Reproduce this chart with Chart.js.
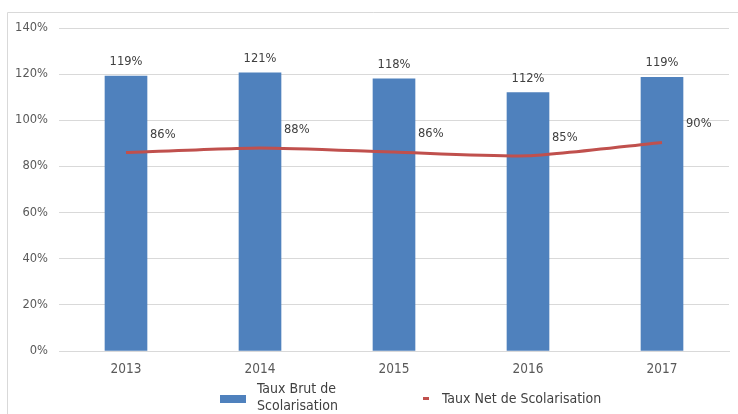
<!DOCTYPE html>
<html>
<head>
<meta charset="utf-8">
<script src="https://cdn.jsdelivr.net/npm/chart.js@4"></script>
<style>
  html, body { margin: 0; padding: 0; background: #fff; }
  #wrap { width: 738px; height: 414px; position: relative; }
</style>
</head>
<body>
<div id="wrap"><canvas id="chart" width="738" height="414"></canvas></div>
<script>
const years = ["2013", "2014", "2015", "2016", "2017"];
const taux_brut = [119.2, 120.6, 118.0, 112.0, 118.6];
const taux_net = [86.0, 88.0, 86.2, 84.6, 90.4];
const y_ticks_max = 140;

const narrow = "'Liberation Sans Narrow', 'DejaVu Sans Condensed', sans-serif";
const dejavu = "'DejaVu Sans', sans-serif";

// grey frame around the whole chart, open on the right/bottom like the source
const frame = {
  id: "frame",
  beforeDraw(chart) {
    const ctx = chart.ctx;
    ctx.save();
    ctx.strokeStyle = "#d9d9d9";
    ctx.lineWidth = 1;
    ctx.beginPath();
    ctx.moveTo(7.5, 420);
    ctx.lineTo(7.5, 12.5);
    ctx.lineTo(740, 12.5);
    ctx.stroke();
    ctx.restore();
  },
};

// percent labels above bars and beside line points
const value_labels = {
  id: "value_labels",
  afterDatasetsDraw(chart) {
    const ctx = chart.ctx;
    ctx.save();
    ctx.font = "11.5px " + dejavu;
    ctx.fillStyle = "#404040";
    ctx.textBaseline = "middle";
    chart.data.datasets.forEach((ds, i) => {
      const meta = chart.getDatasetMeta(i);
      meta.data.forEach((el, j) => {
        const txt = Math.round(ds.data[j]) + "%";
        if (ds.type === "bar") {
          ctx.textAlign = "center";
          ctx.fillText(txt, el.x, el.y - 14);
        } else {
          ctx.textAlign = "left";
          ctx.fillText(txt, el.x + 24, el.y - 18);
        }
      });
    });
    ctx.restore();
  },
};

// legend at the bottom, first label wraps on two lines
const bottom_legend = {
  id: "bottom_legend",
  afterDraw(chart) {
    const ctx = chart.ctx;
    const ds = chart.data.datasets;
    ctx.save();
    ctx.font = "14px " + narrow;
    ctx.textBaseline = "middle";
    ctx.textAlign = "left";

    ctx.fillStyle = ds[0].backgroundColor;
    ctx.fillRect(220, 395, 26, 8);
    ctx.fillStyle = "#404040";
    ctx.fillText("Taux Brut de", 257, 389);
    ctx.fillText("Scolarisation", 257, 406);

    ctx.fillStyle = ds[1].borderColor;
    ctx.fillRect(423, 397, 6, 3);
    ctx.fillStyle = "#404040";
    ctx.fillText(ds[1].label, 442, 399);
    ctx.restore();
  },
};

const data = {
  labels: years,
  datasets: [
    {
      type: "bar",
      label: "Taux Brut de Scolarisation",
      data: taux_brut,
      backgroundColor: "#4f81bd",
      barThickness: 42,
      order: 2,
    },
    {
      type: "line",
      label: "Taux Net de Scolarisation",
      data: taux_net,
      borderColor: "#c0504d",
      borderWidth: 3,
      pointRadius: 0,
      tension: 0.2,
      fill: false,
      order: 1,
    },
  ],
};

const config = {
  data: data,
  options: {
    animation: { duration: 0 },
    responsive: false,
    layout: { padding: { left: 0, top: 28, right: 9, bottom: 0 } },
    plugins: {
      legend: { display: false },
      tooltip: { enabled: false },
    },
    scales: {
      x: {
        grid: { display: false, drawTicks: false },
        border: { display: true, color: "#d9d9d9" },
        ticks: {
          padding: 10,
          color: "#595959",
          font: { family: narrow, size: 13.5 },
        },
        afterFit: (s) => { s.height = 63; },
      },
      y: {
        min: 0,
        max: y_ticks_max,
        grid: { color: "#d9d9d9", drawTicks: false },
        border: { display: false },
        ticks: {
          stepSize: 20,
          padding: 11,
          color: "#595959",
          font: { family: dejavu, size: 11.5 },
          callback: (v) => v + "%",
        },
        afterFit: (s) => { s.width = 59; },
      },
    },
  },
  plugins: [frame, value_labels, bottom_legend],
};

const ctx = document.getElementById("chart");
new Chart(ctx, config);
</script>
</body>
</html>
